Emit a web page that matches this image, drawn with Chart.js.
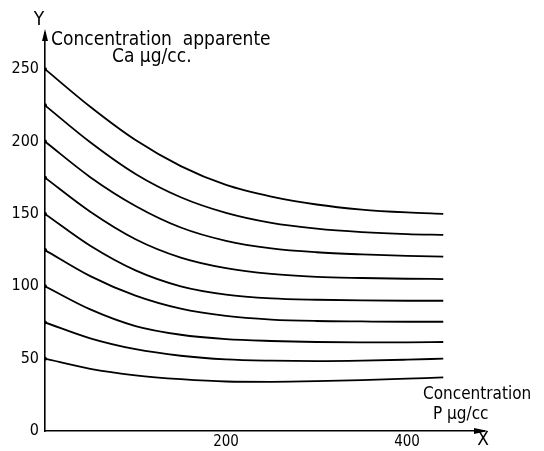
<!DOCTYPE html>
<html>
<head>
<meta charset="utf-8">
<script src="https://cdn.jsdelivr.net/npm/chart.js@4"></script>
<style>
  html, body { margin: 0; padding: 0; background: #fff; }
  #wrap { width: 544px; height: 451px; position: relative; }
</style>
</head>
<body>
<div id="wrap"><canvas id="myChart"></canvas></div>
<script>
// P concentration (x) where the curves were read
const xValues = [0, 50, 100, 150, 200, 250, 300, 350, 400, 440];

// apparent Ca concentration, one curve per starting level
const curve250 = [250, 224, 201, 183, 170, 162, 156.5, 153, 151, 150];
const curve225 = [225, 199.5, 177.6, 161.5, 150.7, 143.8, 139.8, 137.4, 136, 135.5];
const curve200 = [200, 175.4, 155.5, 140.6, 131.4, 126.2, 123.5, 122, 121, 120.5];
const curve175 = [175, 151.5, 132.5, 119.8, 112.5, 108.5, 106.5, 105.7, 105.2, 105];
const curve150 = [150, 128, 111, 100, 94.3, 91.7, 90.7, 90.2, 90, 90];
const curve125 = [125, 107, 93.5, 84.5, 79.5, 77, 76, 75.7, 75.5, 75.5];
const curve100 = [100, 84, 72.5, 66.5, 63.5, 62.2, 61.5, 61.3, 61.3, 61.5];
const curve75 = [75, 64, 56.5, 52, 49.5, 48.6, 48.3, 48.6, 49.3, 50];
const curve50 = [50, 43, 38.5, 35.8, 34.2, 34, 34.4, 35.2, 36.2, 37];

const allCurves = [curve250, curve225, curve200, curve175, curve150, curve125, curve100, curve75, curve50];

const xTicks = [0, 200, 400];
const yTicks = [0, 50, 100, 150, 200, 250];

const FONT = '"DejaVu Sans Condensed", "Liberation Sans Narrow", "DejaVu Sans", sans-serif';

// arrows on the axes and the hand-written labels
const decorPlugin = {
  id: "decor",
  afterDraw(chart) {
    const ctx = chart.ctx;
    const area = chart.chartArea;
    const x0 = area.left, y0 = area.bottom;
    ctx.save();
    ctx.fillStyle = "#000";
    ctx.strokeStyle = "#000";

    // y arrow
    ctx.beginPath();
    ctx.moveTo(x0, area.top - 4);
    ctx.lineTo(x0 - 3, area.top + 8);
    ctx.lineTo(x0 + 3, area.top + 8);
    ctx.closePath();
    ctx.fill();
    // x arrow
    ctx.beginPath();
    ctx.moveTo(area.right + 4, y0);
    ctx.lineTo(area.right - 10, y0 - 3);
    ctx.lineTo(area.right - 10, y0 + 3);
    ctx.closePath();
    ctx.fill();

    ctx.textBaseline = "middle";
    ctx.textAlign = "center";
    ctx.font = "19px " + FONT;
    ctx.fillText("Y", 39, 20);
    ctx.fillText("X", 483, 440);

    ctx.textAlign = "left";
    ctx.font = "19px " + FONT;
    ctx.fillText("Concentration  apparente", 51, 40);
    ctx.fillText("Ca µg/cc.", 112, 57);

    ctx.font = "17px " + FONT;
    ctx.fillText("Concentration", 423, 395);
    ctx.fillText("P µg/cc", 433, 415);
    ctx.restore();
  }
};

const datasets = allCurves.map(function (vals) {
  return {
    data: xValues.map(function (x, i) { return { x: x, y: vals[i] }; }),
    borderColor: "#000",
    borderWidth: 1.8,
    backgroundColor: "#000",
    pointRadius: function (c) { return c.dataIndex === 0 ? 2 : 0; },
    pointBorderWidth: 0,
    cubicInterpolationMode: "monotone",
    fill: false
  };
});

const ctxChart = document.getElementById("myChart").getContext("2d");
const chart = new Chart(ctxChart, {
  type: "line",
  data: { datasets: datasets },
  options: {
    responsive: true,
    maintainAspectRatio: false,
    animation: false,
    layout: { padding: { left: 0, right: 60, top: 33, bottom: 0 } },
    plugins: {
      legend: { display: false },
      tooltip: { enabled: false }
    },
    scales: {
      x: {
        type: "linear",
        min: 0,
        max: 485,
        afterBuildTicks: function (scale) {
          scale.ticks = xTicks.map(function (v) { return { value: v }; });
        },
        afterFit: function (scale) { scale.height = 20; },
        grid: { display: false, drawTicks: false },
        border: { display: true, color: "#000", width: 1.6 },
        ticks: {
          color: "#000",
          padding: 2,
          font: { family: FONT, size: 15 },
          callback: function (v) { return v === 0 ? "" : v; }
        }
      },
      y: {
        type: "linear",
        min: 0,
        max: 275,
        afterBuildTicks: function (scale) {
          scale.ticks = yTicks.map(function (v) { return { value: v }; });
        },
        afterFit: function (scale) { scale.width = 45; },
        grid: { display: false, drawTicks: false },
        border: { display: true, color: "#000", width: 1.6 },
        ticks: {
          color: "#000",
          padding: 6,
          font: { family: FONT, size: 16 }
        }
      }
    }
  },
  plugins: [decorPlugin]
});
</script>
</body>
</html>
